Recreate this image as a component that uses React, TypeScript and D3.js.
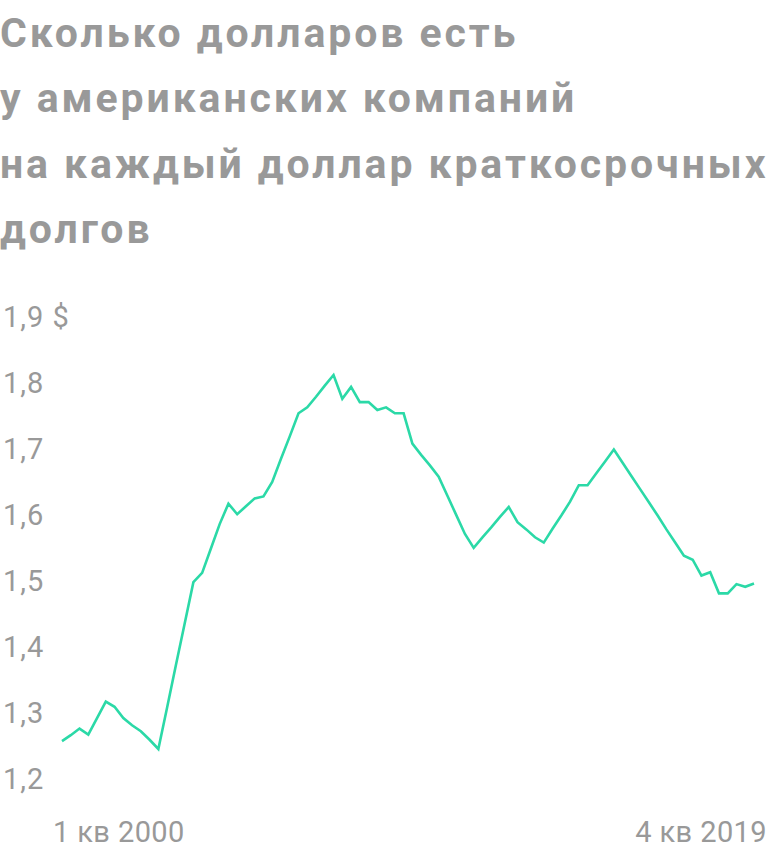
import { useEffect, useRef } from "react";
import * as d3 from "d3";

const titleLines = [
  "Сколько долларов есть",
  "у американских компаний",
  "на каждый доллар краткосрочных",
  "долгов",
];

// 1 кв 2000 ... 4 кв 2019
const quarters: string[] = d3
  .range(2000, 2020)
  .flatMap((yr) => [1, 2, 3, 4].map((q) => `${q} кв ${yr}`));

const ratio: number[] = [
  1.257, 1.266, 1.276, 1.267, 1.292, 1.317, 1.309, 1.292, 1.281, 1.272,
  1.259, 1.245, 1.308, 1.372, 1.435, 1.498, 1.512, 1.549, 1.586, 1.617,
  1.601, 1.613, 1.625, 1.628, 1.65, 1.685, 1.719, 1.754, 1.763, 1.779,
  1.796, 1.812, 1.776, 1.794, 1.771, 1.771, 1.759, 1.763, 1.754, 1.754,
  1.708, 1.691, 1.675, 1.658, 1.629, 1.6, 1.571, 1.55, 1.566, 1.581,
  1.597, 1.612, 1.589, 1.578, 1.566, 1.558, 1.579, 1.599, 1.62, 1.645,
  1.645, 1.663, 1.681, 1.699, 1.679, 1.659, 1.639, 1.619, 1.599, 1.578,
  1.558, 1.538, 1.532, 1.508, 1.513, 1.481, 1.481, 1.495, 1.491, 1.496,
];

const yTicks = [1.2, 1.3, 1.4, 1.5, 1.6, 1.7, 1.8, 1.9];
const xTickLabels = ["1 кв 2000", "4 кв 2019"];

const W = 768;
const H = 853;
const GREY = "#999999";
const LINE = "#2bd9a7";
const FONT = "Roboto, 'Noto Sans', sans-serif";

export default function App() {
  const svgRef = useRef<SVGSVGElement>(null);

  useEffect(() => {
    const svgEl = svgRef.current;
    if (!svgEl) return;
    const svg = d3.select(svgEl);
    svg.selectAll("*").remove();

    const x = d3.scalePoint<string>().domain(quarters).range([62, 754]);
    const y = d3.scaleLinear().domain([1.2, 1.9]).range([778.7, 317]);

    // title
    svg
      .append("g")
      .selectAll("text")
      .data(titleLines)
      .enter()
      .append("text")
      .attr("x", 0)
      .attr("y", (_, i) => 46.5 + i * 65.5)
      .attr("fill", GREY)
      .attr("font-family", FONT)
      .attr("font-weight", 700)
      .attr("font-size", "41px")
      .attr("letter-spacing", "2.9px")
      .text((d) => d);

    // y labels
    svg
      .append("g")
      .selectAll("text")
      .data(yTicks)
      .enter()
      .append("text")
      .attr("x", 3)
      .attr("y", (d) => y(d))
      .attr("dy", "0.36em")
      .attr("fill", GREY)
      .attr("font-family", FONT)
      .attr("font-size", "29px")
      .attr("letter-spacing", "1px")
      .text((d, i) => {
        const s = d3.format(".1f")(d).replace(".", ",");
        return i === yTicks.length - 1 ? `${s} $` : s;
      });

    // x labels
    svg
      .append("g")
      .selectAll("text")
      .data(xTickLabels)
      .enter()
      .append("text")
      .attr("x", (_, i) => (i === 0 ? 53 : 767))
      .attr("y", 842)
      .attr("text-anchor", (_, i) => (i === 0 ? "start" : "end"))
      .attr("fill", GREY)
      .attr("font-family", FONT)
      .attr("font-size", "29px")
      .attr("letter-spacing", "0.4px")
      .text((d) => d);

    const line = d3
      .line<number>()
      .x((_, i) => x(quarters[i])!)
      .y((d) => y(d));

    svg
      .append("path")
      .datum(ratio)
      .attr("d", line)
      .attr("fill", "none")
      .attr("stroke", LINE)
      .attr("stroke-width", 2.6)
      .attr("stroke-linejoin", "miter");
  }, []);

  return (
    <svg
      ref={svgRef}
      width={W}
      height={H}
      style={{ position: "absolute", left: 0, top: 0, display: "block", background: "#fff" }}
    />
  );
}
